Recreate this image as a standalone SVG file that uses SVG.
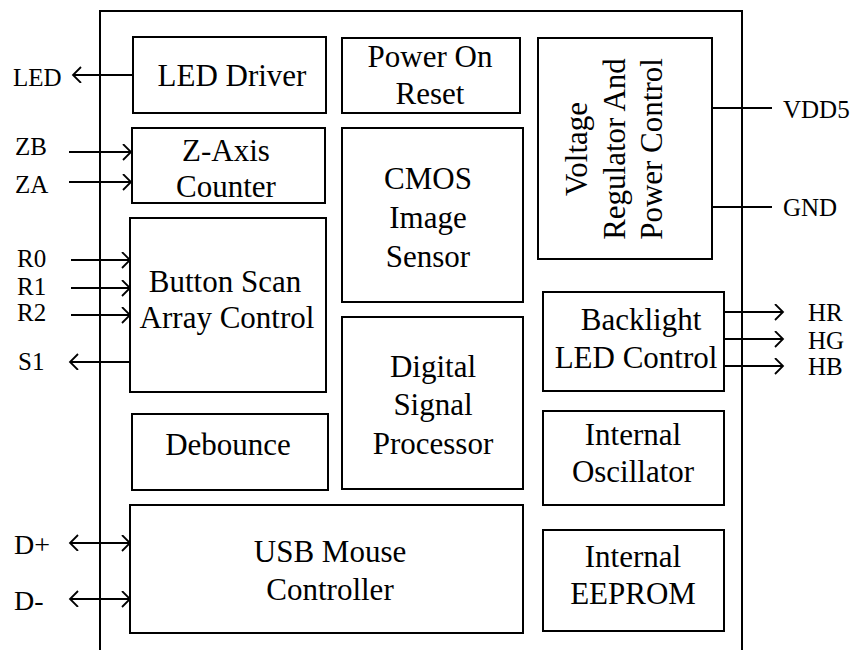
<svg xmlns="http://www.w3.org/2000/svg" width="862" height="650" viewBox="0 0 862 650">
<style>
.box{fill:#fff;stroke:#000;stroke-width:2}
.t{font-family:"Liberation Serif","Times New Roman",serif;font-size:31px;fill:#000;text-anchor:middle}
.p{font-family:"Liberation Serif","Times New Roman",serif;font-size:25px;fill:#000}
.w{fill:none;stroke:#000;stroke-width:2}
</style>
<defs>
<marker id="arr" markerUnits="userSpaceOnUse" markerWidth="12" markerHeight="18" refX="9" refY="8" orient="auto-start-reverse">
<path d="M1,0 L9,8 L1,16" fill="none" stroke="#000" stroke-width="1.8"/>
</marker>
</defs>
<rect width="862" height="650" fill="#fff"/>
<g id="chip"><path class="w" d="M100,650 V11 H742 V650"/></g>

<g id="connectors">
<line class="w" x1="133" y1="75" x2="73" y2="75" marker-end="url(#arr)"/>
<line class="w" x1="69" y1="152" x2="131" y2="152" marker-end="url(#arr)"/>
<line class="w" x1="69" y1="182" x2="131" y2="182" marker-end="url(#arr)"/>
<line class="w" x1="71" y1="260" x2="130" y2="260" marker-end="url(#arr)"/>
<line class="w" x1="71" y1="288" x2="130" y2="288" marker-end="url(#arr)"/>
<line class="w" x1="71" y1="315" x2="130" y2="315" marker-end="url(#arr)"/>
<line class="w" x1="130" y1="362" x2="70" y2="362" marker-end="url(#arr)"/>
<line class="w" x1="70" y1="543" x2="130" y2="543" marker-start="url(#arr)" marker-end="url(#arr)"/>
<line class="w" x1="70" y1="599" x2="130" y2="599" marker-start="url(#arr)" marker-end="url(#arr)"/>
<line class="w" x1="712" y1="108" x2="772" y2="108"/>
<line class="w" x1="712" y1="207" x2="772" y2="207"/>
<line class="w" x1="724" y1="312" x2="783" y2="312" marker-end="url(#arr)"/>
<line class="w" x1="724" y1="339" x2="783" y2="339" marker-end="url(#arr)"/>
<line class="w" x1="724" y1="366" x2="783" y2="366" marker-end="url(#arr)"/>
</g>

<g id="pins">
<text class="p" x="13" y="86">LED</text>
<text class="p" x="15" y="155">ZB</text>
<text class="p" x="15" y="193">ZA</text>
<text class="p" x="17" y="267">R0</text>
<text class="p" x="17" y="295">R1</text>
<text class="p" x="17" y="321">R2</text>
<text class="p" x="18" y="370">S1</text>
<text class="p" x="14" y="554" style="font-size:28px">D+</text>
<text class="p" x="14" y="610" style="font-size:28px">D-</text>
<text class="p" x="783" y="118">VDD5</text>
<text class="p" x="783" y="216">GND</text>
<text class="p" x="808" y="321">HR</text>
<text class="p" x="808" y="349">HG</text>
<text class="p" x="808" y="375">HB</text>
</g>

<g id="led-driver"><rect class="box" x="133" y="37" width="193" height="76"/><text class="t" x="232" y="86">LED Driver</text></g>
<g id="z-axis"><rect class="box" x="132" y="128" width="193" height="75"/><text class="t" x="226" y="161">Z-Axis</text><text class="t" x="226" y="197">Counter</text></g>
<g id="button-scan"><rect class="box" x="130" y="218" width="196" height="174"/><text class="t" x="225" y="292">Button Scan</text><text class="t" x="227" y="328">Array Control</text></g>
<g id="debounce"><rect class="box" x="132" y="414" width="196" height="76"/><text class="t" x="228" y="455">Debounce</text></g>
<g id="por"><rect class="box" x="342" y="38" width="178" height="75"/><text class="t" x="430" y="67">Power On</text><text class="t" x="430" y="104">Reset</text></g>
<g id="cmos"><rect class="box" x="342" y="128" width="181" height="174"/><text class="t" x="428" y="189">CMOS</text><text class="t" x="428" y="228">Image</text><text class="t" x="428" y="267">Sensor</text></g>
<g id="dsp"><rect class="box" x="342" y="317" width="181" height="172"/><text class="t" x="433" y="377">Digital</text><text class="t" x="433" y="415">Signal</text><text class="t" x="433" y="454">Processor</text></g>
<g id="usb"><rect class="box" x="130" y="505" width="393" height="128"/><text class="t" x="330" y="562">USB Mouse</text><text class="t" x="330" y="600">Controller</text></g>
<g id="vreg"><rect class="box" x="538" y="38" width="174" height="221"/>
<text class="t" transform="translate(587,149) rotate(-90)">Voltage</text>
<text class="t" transform="translate(625,149) rotate(-90)">Regulator And</text>
<text class="t" transform="translate(662,149) rotate(-90)">Power Control</text></g>
<g id="backlight"><rect class="box" x="543" y="292" width="181" height="99"/><text class="t" x="641" y="330">Backlight</text><text class="t" x="636" y="368">LED Control</text></g>
<g id="osc"><rect class="box" x="543" y="411" width="181" height="94"/><text class="t" x="633" y="445">Internal</text><text class="t" x="633" y="482">Oscillator</text></g>
<g id="eeprom"><rect class="box" x="543" y="530" width="181" height="101"/><text class="t" x="633" y="567">Internal</text><text class="t" x="633" y="604">EEPROM</text></g>
</svg>
